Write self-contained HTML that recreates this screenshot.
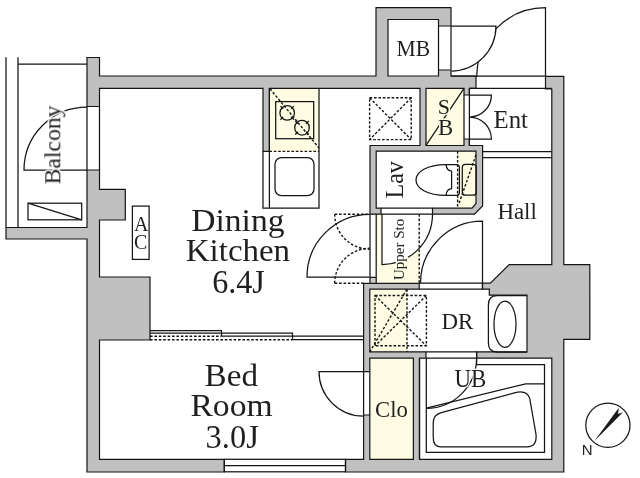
<!DOCTYPE html>
<html><head><meta charset="utf-8"><style>
html,body{margin:0;padding:0;background:#fff;width:640px;height:478px;overflow:hidden}
svg{display:block}
.l{fill:none;stroke:#151515;stroke-width:1.25}
.d{fill:none;stroke:#151515;stroke-width:1.4;stroke-dasharray:2.6 1.8}
.cr{fill:#fefce2}
text{font-family:"Liberation Serif",serif;fill:#1e1e1e}
.tx{opacity:0.995}
</style></head><body>
<svg width="640" height="478" viewBox="0 0 640 478">


<!-- cream areas -->
<rect class="cr" x="269.4" y="88.4" width="49.6" height="63"/>
<rect class="cr" x="426" y="88.4" width="38" height="57"/>
<rect class="cr" x="457.7" y="151.2" width="19" height="56.5"/>
<rect class="cr" x="376.2" y="214" width="43" height="69.3"/>
<rect x="370" y="277.4" width="6.2" height="5.9" fill="#cfcfcf"/>
<rect class="cr" x="369.8" y="289.2" width="37.2" height="62.6"/>
<rect class="cr" x="369.8" y="358.1" width="43.6" height="101.2"/>

<path d="M99.50,76.00 L99.50,57.50 L87.00,57.50 L87.00,106.50 L99.50,106.50 L99.50,88.40 L263.00,88.40 L263.00,151.40 L269.40,151.40 L269.40,88.40 L420.00,88.40 L420.00,145.50 L370.00,145.50 L370.00,214.20 L381.00,214.20 L381.00,208.20 L376.20,208.20 L376.20,151.20 L476.00,151.20 L476.00,203.50 L472.00,208.20 L432.50,208.20 L432.50,214.20 L474.50,214.20 L482.60,206.00 L482.60,145.50 L469.40,145.50 L469.40,139.00 L464.00,139.00 L464.00,145.50 L426.00,145.50 L426.00,88.40 L464.00,88.40 L464.00,95.00 L469.40,95.00 L469.40,88.40 L476.00,88.40 L476.00,76.00 L451.00,76.00 L451.00,70.00 L438.50,70.00 L438.50,76.00 L388.00,76.00 L388.00,19.50 L438.50,19.50 L438.50,26.00 L451.00,26.00 L451.00,7.70 L376.00,7.70 L376.00,76.00ZM99.50,189.40 L99.50,170.00 L87.00,170.00 L87.00,227.50 L6.00,227.50 L6.00,239.00 L87.00,239.00 L87.00,472.00 L224.30,472.00 L224.30,459.30 L99.50,459.30 L99.50,340.00 L150.00,340.00 L150.00,277.00 L99.50,277.00 L99.50,220.00 L125.30,220.00 L125.30,189.40ZM419.20,283.30 L363.60,283.30 L363.60,371.60 L369.80,371.60 L369.80,358.10 L413.40,358.10 L413.40,459.30 L369.80,459.30 L369.80,415.00 L363.60,415.00 L363.60,459.30 L345.50,459.30 L345.50,472.00 L563.80,472.00 L563.80,339.30 L589.80,339.30 L589.80,264.60 L563.80,264.60 L563.80,76.40 L545.50,76.40 L545.50,89.00 L551.80,89.00 L551.80,264.60 L509.20,264.60 L490.40,283.20 L482.50,283.20 L482.50,289.20 L489.30,289.20 L489.30,295.20 L527.00,295.20 L527.00,351.80 L476.60,351.80 L476.60,358.10 L551.80,358.10 L551.80,459.30 L419.50,459.30 L419.50,358.10 L426.00,358.10 L426.00,351.80 L369.80,351.80 L369.80,289.20 L419.20,289.20Z" fill="#c0c0c0" fill-rule="evenodd" stroke="#151515" stroke-width="1.2" stroke-linejoin="miter"/>

<!-- balcony -->
<path class="l" stroke="#4a4a4a" d="M6,57.3V227.5M18,57.3V227.5M18,64.1H87"/>
<path class="l" d="M87,106.5V170M99.5,106.5V170"/>
<path class="l" d="M87,107A63,63 0 0 0 24,170H87"/>
<rect class="l" x="28" y="203.2" width="53.7" height="16.6"/>
<path class="l" d="M28,203.2L81.7,219.8"/>

<!-- bottom window -->
<rect class="l" x="224.3" y="459.3" width="121.2" height="12.5"/>
<path class="l" d="M224.3,465.5H345.5"/>

<!-- AC -->
<rect class="l" x="132.4" y="206.1" width="16.7" height="53.3"/>

<!-- kitchen counter -->
<path class="l" d="M263,151.4V208H319V88.4M269.4,88.4V208"/>
<path class="d" d="M269.4,151.4H319"/>
<rect class="l" x="275.7" y="101.6" width="38" height="37.1"/>
<path class="d" d="M270,88.8L319,148"/>
<circle class="l" cx="287.2" cy="112.9" r="7.3" stroke-width="1.7"/>
<circle class="l" cx="302" cy="127.7" r="7.3" stroke-width="1.7"/>
<path class="l" stroke-width="1.5" d="M291.2,116.9L294.0,119.7M283.2,116.9L280.4,119.7M283.2,108.9L280.4,106.1M291.2,108.9L294.0,106.1M306.0,131.7L308.8,134.5M298.0,131.7L295.2,134.5M298.0,123.7L295.2,120.9M306.0,123.7L308.8,120.9"/>
<rect class="l" stroke-width="1.7" x="275" y="157.6" width="39" height="38" rx="6.5"/>
<!-- fridge -->
<rect class="d" x="369.6" y="97.8" width="41.6" height="41.8"/>
<path class="d" d="M369.6,97.8L411.2,139.6M411.2,97.8L369.6,139.6"/>

<!-- entrance door -->
<path class="l" d="M545.5,76.4V7.7A68.7,68.7 0 0 0 476.8,76.4"/>
<path class="l" d="M451,76.2H545.5M469.4,88.4H551.8"/>
<!-- MB door -->
<path d="M451,26H496A45,45 0 0 1 451,71Z" fill="#fff"/>
<path class="l" d="M438.5,26V70M451,26V70"/>
<path class="l" d="M451,26H496A45,45 0 0 1 451,71"/>
<!-- S/B double door -->
<path class="l" d="M464,95V139M469.4,88.4V145.5"/>
<path class="l" d="M469.4,95H491.4A22,22 0 0 1 469.4,117A22,22 0 0 1 491.4,139H469.4"/>
<path class="l" d="M426,145.3L464,88.4"/>
<!-- Ent step -->
<path class="l" d="M482.7,151.5H551.8M482.7,157.5H551.8"/>

<!-- Lav -->
<path class="d" d="M457.6,151.2V207.7M476,155L458.8,204"/>
<rect class="l" stroke-width="1.6" x="462.3" y="164.4" width="13.9" height="30.8" rx="3"/>
<path class="l" stroke-width="1.6" d="M446,164.6H456.5Q459.4,164.6 459.4,167.5V192.5Q459.4,195.4 456.5,195.4H446C427,195.4 416,188 416,180C416,172 427,164.6 446,164.6Z"/>
<path class="l" stroke-width="1.6" d="M446,164.6C446.5,169 448,170.8 451.6,171V188.6C448,188.8 446.5,190.5 446,195.4"/>

<!-- kitchen door -->
<path class="l" d="M370,214V283.3M376.2,214V283.3M370,277.4H376.2"/>
<path class="l" d="M369.7,214.3A62.7,62.7 0 0 0 307,277H369.7"/>
<path class="d" d="M334.7,214.2H369.7M334.7,214.2A35,35 0 0 0 369.7,249.2"/>
<path class="d" d="M334.7,283.3H363.6M334.7,283.3A35,35 0 0 1 369.7,248.3"/>
<!-- lav door -->
<mask id="upm" maskUnits="userSpaceOnUse" x="0" y="0" width="640" height="478"><rect width="640" height="478" fill="#fff"/><text transform="translate(404.3,280) rotate(-90)" font-size="15" textLength="61.3" lengthAdjust="spacingAndGlyphs" fill="#000" stroke="#000" stroke-width="2.6">Upper Sto</text></mask>
<path d="M382,214.2V264.5A50.3,50.3 0 0 0 432.5,214.2Z" fill="#fff"/>
<path class="d" d="M419.2,214.2V283.3" mask="url(#upm)"/>
<path class="l" d="M381,208.2H432.5M381,214.2H432.5"/>
<path class="l" d="M382,214.2V264.5A50.3,50.3 0 0 0 432.5,214.2" mask="url(#upm)"/>

<!-- hall door -->
<path class="l" d="M419.2,283.2H482.5M419.2,289.2H482.5"/>
<path class="l" d="M482.5,289.2V221.2A62,62 0 0 0 420.5,283.2"/>

<!-- DR -->
<path class="d" d="M407,289.2V351.8M407,289.2L369.8,351.8"/>
<rect class="d" x="375" y="295.5" width="51.4" height="50.3"/>
<path class="d" d="M375,295.5L426.4,345.8M426.4,295.5L375,345.8"/>
<path class="l" d="M527,295.7H497Q488.4,295.7 488.4,305V343Q488.4,352 497,352H527"/>
<ellipse class="l" cx="505" cy="324.2" rx="11" ry="23.2"/>

<!-- sliding doors -->
<path class="l" d="M150,330.6H221.5V336.2M150,333.1H292.5V339.7M221.5,336.2H363.6M292.5,339.7H363.6"/>
<path class="d" d="M150,336.2H221.5M150,339.7H292.5"/>

<!-- Clo door -->
<path class="l" d="M363.6,371.6V415M369.8,371.6V415"/>
<path class="l" d="M363.6,371.6H319A44.6,44.6 0 0 0 363.6,416.2"/>

<!-- UB -->
<path class="l" d="M419.5,358.1V459.3M426.3,358.1H476.6M426.3,358.1V452.3H544.5V364.5H476.6V351.8"/>
<path class="l" d="M476.6,358.1A50.3,50.3 0 0 1 426.3,408.4"/>
<path class="l" d="M426,351.8H476.6"/>
<path class="l" d="M426.3,408.2L525.6,383.8H544.5"/>
<path class="l" d="M441.3,412.7L514.5,392.8Q527,389.5 529.7,398.4L535.8,433Q538,446.8 526.6,446.8H440.3Q433.2,446.8 433.2,437V422.8Q433.2,415 441.3,412.7Z"/>

<!-- compass -->
<circle class="l" cx="607.9" cy="425.3" r="22.1" stroke-width="1.5"/>
<path d="M594.2,441.3L618.8,407.8L618,413.9L623,412.3Z" fill="#1a1a1a"/>


<!-- texts -->
<g class="tx">
<text x="581.8" y="454.6" style="font-family:'Liberation Sans',sans-serif" font-size="15">N</text>
<text x="191.3" y="231" font-size="32" textLength="93.2" lengthAdjust="spacingAndGlyphs">Dining</text>
<text x="185.8" y="261.3" font-size="32" textLength="104.3" lengthAdjust="spacingAndGlyphs">Kitchen</text>
<text x="212.2" y="293.2" font-size="33.5" textLength="52.6" lengthAdjust="spacingAndGlyphs">6.4J</text>
<text x="204.6" y="385.6" font-size="32" textLength="53.4" lengthAdjust="spacingAndGlyphs">Bed</text>
<text x="190.4" y="416.4" font-size="32" textLength="82.2" lengthAdjust="spacingAndGlyphs">Room</text>
<text x="205.6" y="447.9" font-size="33.5" textLength="53.2" lengthAdjust="spacingAndGlyphs">3.0J</text>
<text x="396.6" y="55.6" font-size="23" textLength="33.6" lengthAdjust="spacingAndGlyphs">MB</text>
<text x="493.6" y="127.9" font-size="24.5" textLength="34.4" lengthAdjust="spacingAndGlyphs">Ent</text>
<text x="497.4" y="218.5" font-size="23.2" textLength="39.4" lengthAdjust="spacingAndGlyphs">Hall</text>
<text x="441.4" y="328.5" font-size="23.2" textLength="31.8" lengthAdjust="spacingAndGlyphs">DR</text>
<text x="454.6" y="386.9" font-size="25.5" textLength="31.8" lengthAdjust="spacingAndGlyphs" stroke="#fff" stroke-width="2.5" paint-order="stroke">UB</text>
<text x="375" y="417.3" font-size="24" textLength="32.8" lengthAdjust="spacingAndGlyphs">Clo</text>
<text x="437.8" y="113.6" font-size="22" stroke="#fefce2" stroke-width="3" paint-order="stroke">S</text>
<text x="437.9" y="135.3" font-size="22.8" stroke="#fefce2" stroke-width="3" paint-order="stroke">B</text>
<text x="134" y="230.8" font-size="20">A</text>
<text x="134" y="248.5" font-size="20">C</text>
<text transform="translate(402.5,198.4) rotate(-90)" font-size="24.6" textLength="37.1" lengthAdjust="spacingAndGlyphs">Lav</text>
<text transform="translate(404.3,280) rotate(-90)" font-size="15" textLength="61.3" lengthAdjust="spacingAndGlyphs">Upper Sto</text>
<text transform="translate(60.3,184.4) rotate(-90)" font-size="23.8" textLength="78.9" lengthAdjust="spacingAndGlyphs" stroke="#fff" stroke-width="3" paint-order="stroke">Balcony</text>
</g>
</svg>
</body></html>
